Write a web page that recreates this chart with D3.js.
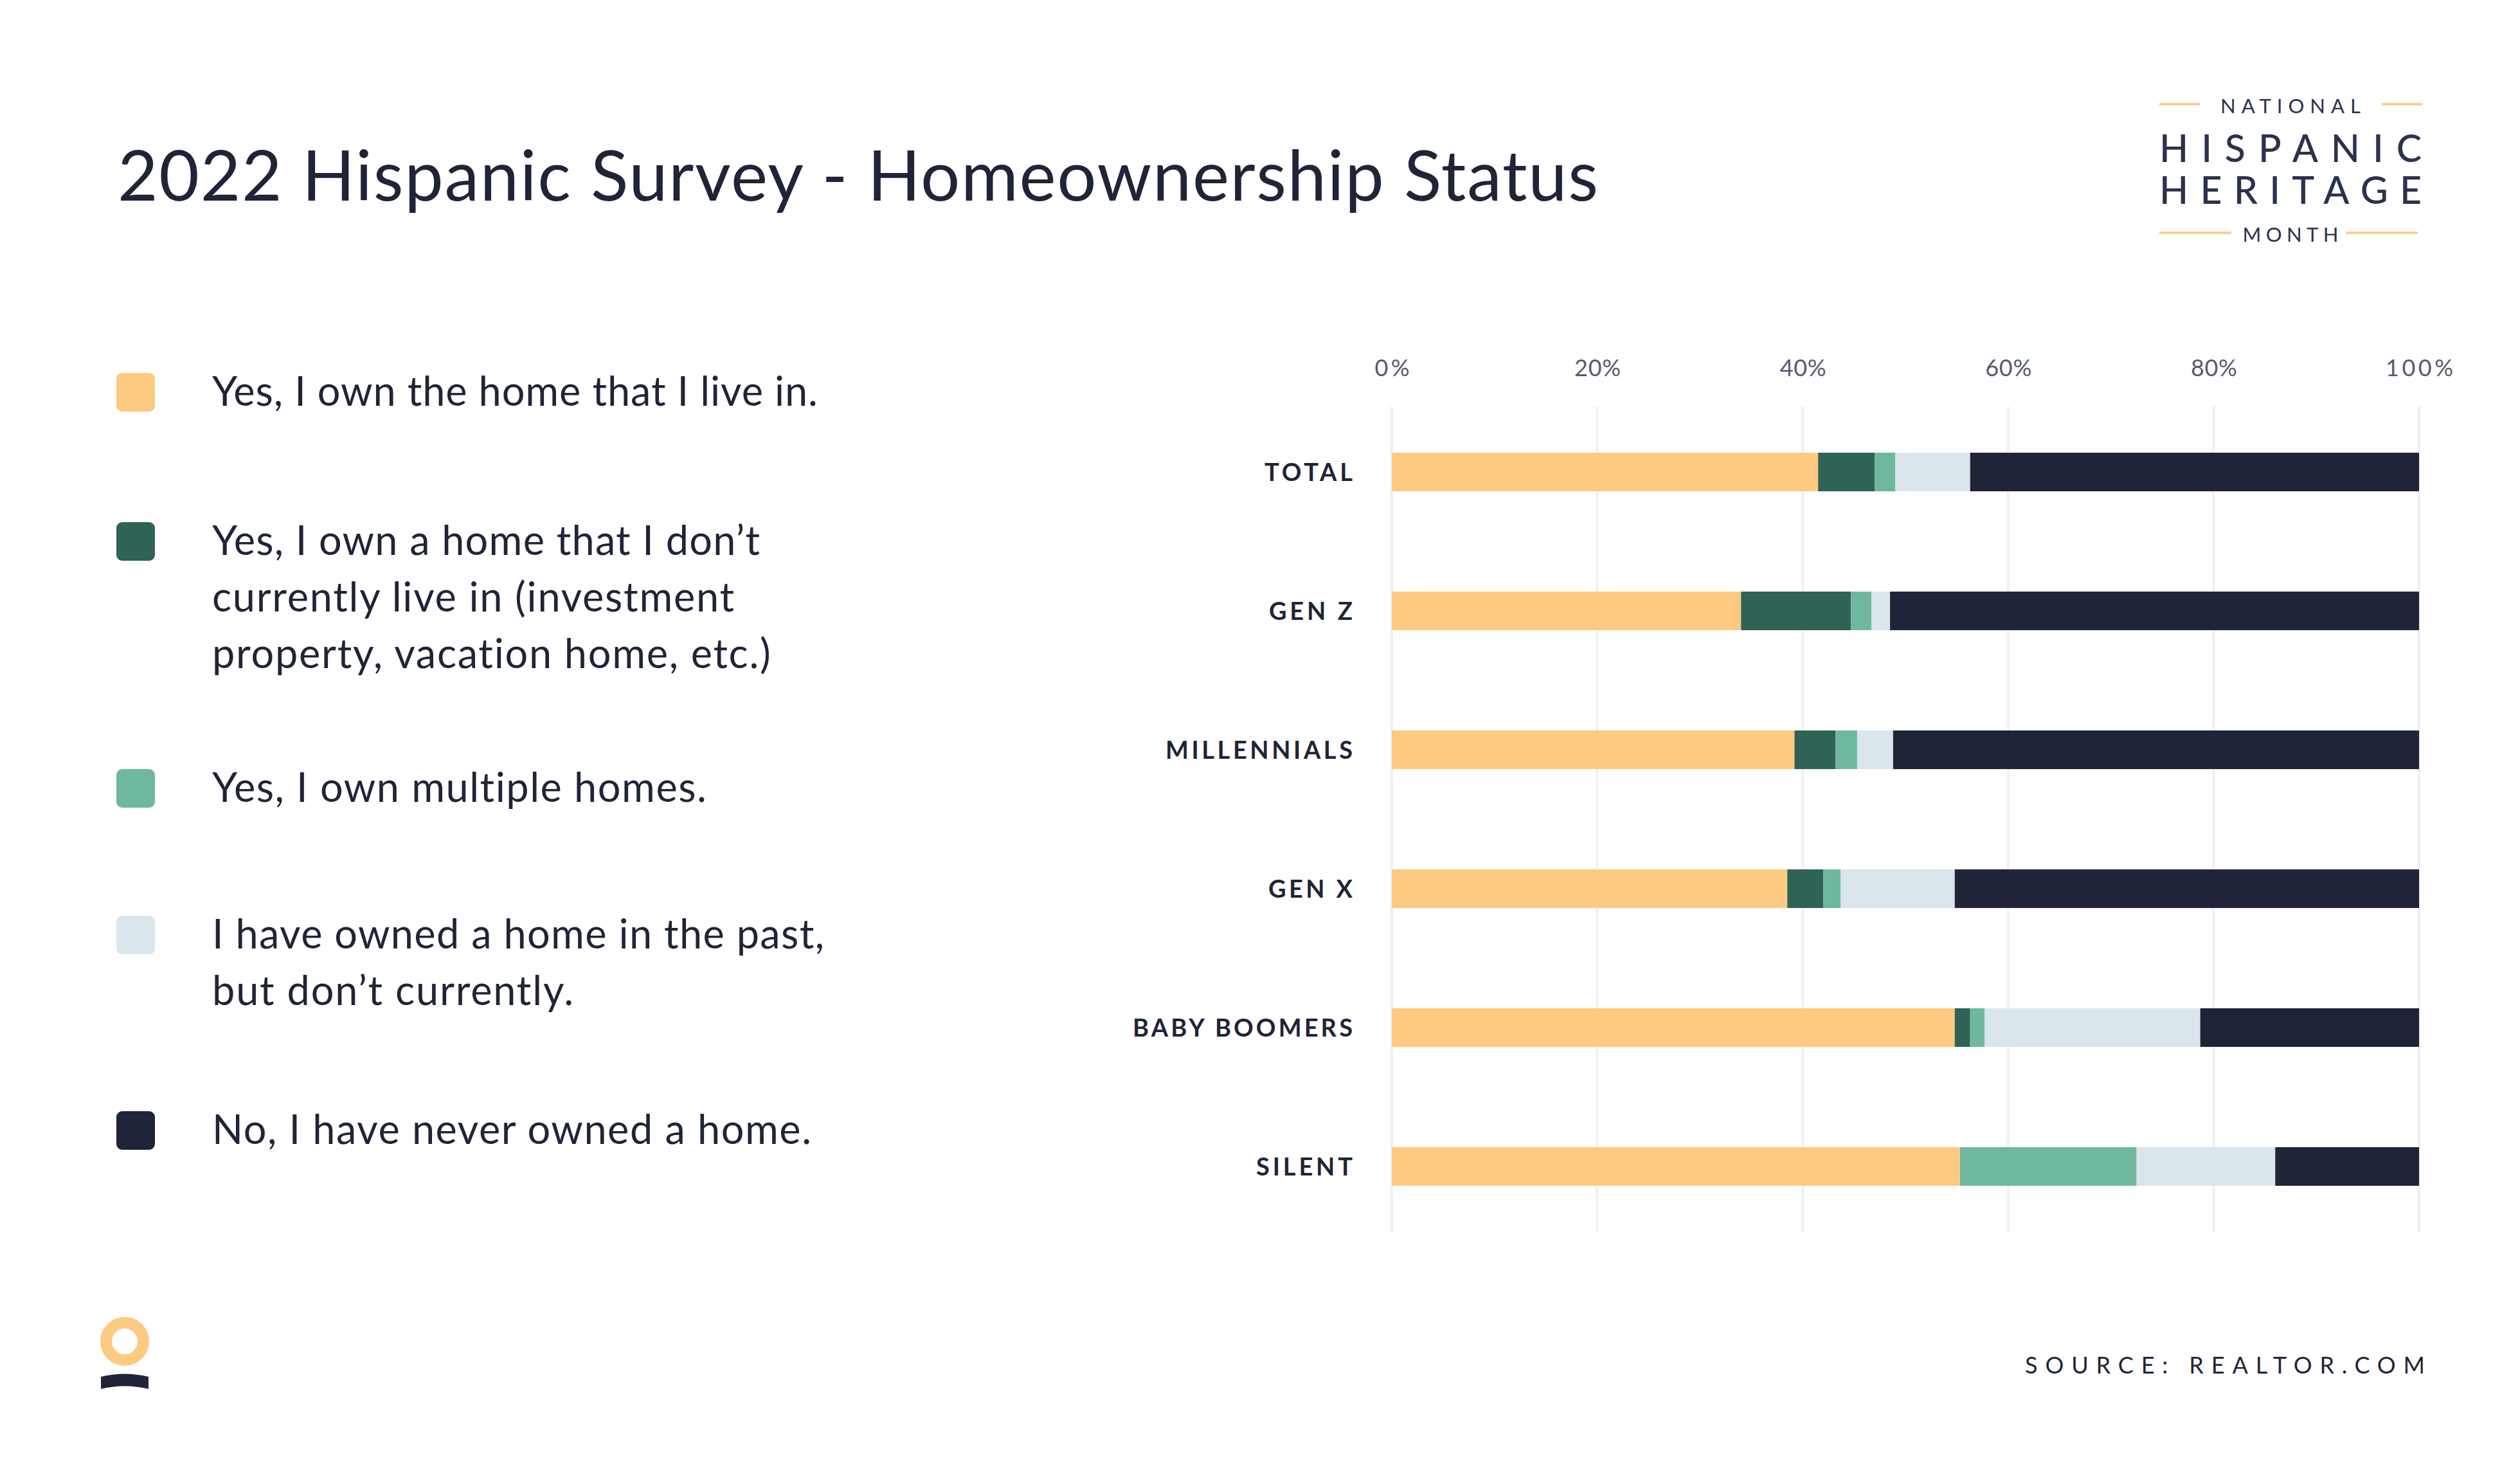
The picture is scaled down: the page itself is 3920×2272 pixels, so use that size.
<!DOCTYPE html>
<html>
<head>
<meta charset="utf-8">
<script src="https://cdn.jsdelivr.net/npm/d3@7"></script>
<style>
  html, body { margin: 0; padding: 0; background: #ffffff; }
  svg { display: block; }
</style>
</head>
<body>
<svg id="chart" width="3920" height="2272"></svg>
<script>
// ---------------- DATA ----------------
const categories = ["TOTAL", "GEN Z", "MILLENNIALS", "GEN X", "BABY BOOMERS", "SILENT"];
const seriesKeys = ["ownLive", "ownOther", "ownMultiple", "ownedPast", "neverOwned"];
const ownLive     = [41.5, 34.0, 39.2, 38.5, 54.8, 55.3];
const ownOther    = [5.5, 10.7, 4.0, 3.5, 1.5, 0.0];
const ownMultiple = [2.0, 2.0, 2.1, 1.7, 1.4, 17.2];
const ownedPast   = [7.3, 1.8, 3.5, 11.1, 21.0, 13.5];
const neverOwned  = [43.7, 51.5, 51.2, 45.2, 21.3, 14.0];
const tickValues  = [0, 20, 40, 60, 80, 100];
const legendLabels = [
  ["Yes, I own the home that I live in."],
  ["Yes, I own a home that I don\u2019t", "currently live in (investment", "property, vacation home, etc.)"],
  ["Yes, I own multiple homes."],
  ["I have owned a home in the past,", "but don\u2019t currently."],
  ["No, I have never owned a home."]
];
const titleText = "2022 Hispanic Survey - Homeownership Status";
const sourceText = "SOURCE: REALTOR.COM";

// ---------------- STYLE / LAYOUT ----------------
const colors = ["#FDCA82", "#2E6356", "#6FB8A0", "#DAE6EB", "#1F2438"];
const ink = "#1F2438";
const logoInk = "#2B3150";
const font = "Lato, 'Noto Sans', sans-serif";
const legendY = [610, 842, 1226, 1454, 1758];
const legendLineWidths = [[942], [852, 812, 870], [770], [952, 562], [932]];

const svg = d3.select("#chart");

// letter-spacing fit helper
function fit(sel, target, anchor) {
  const node = sel.node();
  const n = sel.text().length;
  const w = node.getComputedTextLength();
  const ls = (target - w) / Math.max(1, n - 1);
  sel.attr("letter-spacing", ls);
  if (anchor === "end") sel.attr("dx", ls);
  else if (anchor === "middle") sel.attr("dx", ls / 2);
  return ls;
}

// ---------------- TITLE ----------------
const title = svg.append("text")
  .attr("x", 183).attr("y", 312)
  .attr("font-family", font).attr("font-size", 108).attr("font-weight", 400)
  .attr("fill", ink).text(titleText);
fit(title, 2303, "start");

// ---------------- SCALES ----------------
const x = d3.scaleLinear().domain([0, 100]).range([2165, 3763]);
const y = d3.scaleBand().domain(categories).range([626, 1922]).paddingInner(0.722).paddingOuter(0.361);

// gridlines
svg.append("g").selectAll("line").data(tickValues).join("line")
  .attr("x1", d => x(d)).attr("x2", d => x(d))
  .attr("y1", 632).attr("y2", 1916)
  .attr("stroke", "#EEF1F3").attr("stroke-width", 4);

// x axis (top)
const xAxis = svg.append("g").attr("transform", "translate(0,585)")
  .call(d3.axisTop(x).tickValues(tickValues).tickSize(0).tickPadding(0).tickFormat(d => d + "%"));
xAxis.select(".domain").remove();
xAxis.selectAll("text")
  .attr("font-family", font).attr("font-size", 36).attr("fill", "#555A6E")
  .attr("dy", 0)
  .each(function(d) {
    const s = d3.select(this);
    const target = d === 100 ? 105 : (d === 0 ? 54 : 72);
    fit(s, target, "middle");
  });

// stacked data
const table = categories.map((c, i) => ({
  category: c,
  ownLive: ownLive[i], ownOther: ownOther[i], ownMultiple: ownMultiple[i],
  ownedPast: ownedPast[i], neverOwned: neverOwned[i]
}));
const stacked = d3.stack().keys(seriesKeys)(table);

svg.append("g").selectAll("g").data(stacked).join("g")
  .attr("fill", (d, i) => colors[i])
  .selectAll("rect").data(d => d).join("rect")
  .attr("x", d => x(d[0]))
  .attr("width", d => Math.max(0, x(d[1]) - x(d[0])))
  .attr("y", d => y(d.data.category))
  .attr("height", y.bandwidth());

// y axis labels
const yAxis = svg.append("g").attr("transform", "translate(2104,0)")
  .call(d3.axisLeft(y).tickSize(0).tickPadding(0));
yAxis.select(".domain").remove();
const labelWidths = {"TOTAL": 137, "GEN Z": 130, "MILLENNIALS": 291, "GEN X": 131, "BABY BOOMERS": 342, "SILENT": 150};
yAxis.selectAll("text")
  .attr("font-family", font).attr("font-size", 38).attr("font-weight", 700)
  .attr("fill", ink).attr("dy", "0.36em")
  .each(function(d) { fit(d3.select(this), labelWidths[d], "end"); });

// ---------------- LEGEND ----------------
const lg = svg.append("g");
legendLabels.forEach((lines, i) => {
  lg.append("rect").attr("x", 181).attr("y", legendY[i] - 30)
    .attr("width", 60).attr("height", 60).attr("rx", 9)
    .attr("fill", colors[i]);
  lines.forEach((ln, j) => {
    const t = lg.append("text")
      .attr("x", 330).attr("y", legendY[i] + 21 + j * 88)
      .attr("font-family", font).attr("font-size", 63).attr("fill", ink).text(ln);
    fit(t, legendLineWidths[i][j], "start");
  });
});

// ---------------- LOGO (top right) ----------------
const logo = svg.append("g");
[[3359, 3422, 162], [3705, 3768, 162], [3359, 3471, 362], [3649, 3761, 362]].forEach(l => {
  logo.append("line").attr("x1", l[0]).attr("x2", l[1]).attr("y1", l[2]).attr("y2", l[2])
    .attr("stroke", "#FDCA82").attr("stroke-width", 3.5);
});
const logoTexts = [
  {t: "NATIONAL", y: 176, s: 31, w: 218, fw: 400},
  {t: "HISPANIC", y: 252, s: 59, w: 408, fw: 500},
  {t: "HERITAGE", y: 317, s: 59, w: 408, fw: 500},
  {t: "MONTH", y: 376, s: 31, w: 149, fw: 400}
];
logoTexts.forEach(o => {
  const s = logo.append("text").attr("x", 3563).attr("y", o.y)
    .attr("text-anchor", "middle").attr("font-family", font)
    .attr("font-size", o.s).attr("font-weight", o.fw).attr("fill", logoInk).text(o.t);
  fit(s, o.w, "middle");
});

// ---------------- SOURCE ----------------
const src = svg.append("text").attr("x", 3772).attr("y", 2136)
  .attr("text-anchor", "end").attr("font-family", font).attr("font-size", 36)
  .attr("fill", ink).text(sourceText);
fit(src, 622, "end");

// ---------------- LOGO (bottom left) ----------------
svg.append("circle").attr("cx", 194).attr("cy", 2086).attr("r", 29)
  .attr("fill", "none").attr("stroke", "#FDCA82").attr("stroke-width", 18);
svg.append("path")
  .attr("d", "M157,2141 Q194,2132 231,2141 L231,2160 Q194,2151 157,2160 Z")
  .attr("fill", ink);
</script>
</body>
</html>
